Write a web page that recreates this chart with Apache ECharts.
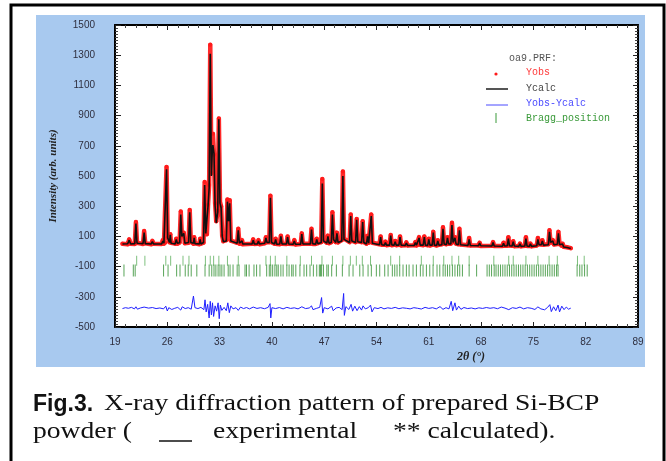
<!DOCTYPE html>
<html>
<head>
<meta charset="utf-8">
<script src="https://cdn.jsdelivr.net/npm/echarts@6/dist/echarts.min.js"></script>
<style>
  html, body { margin: 0; padding: 0; background: #fff; }
  #chart { width: 666px; height: 461px; }
</style>
</head>
<body>
<div id="chart"></div>
<script>
// 2theta positions of the profile (deg)
const twoTheta = [
  20.0, 20.7, 20.9, 21.1, 21.65, 21.8, 21.95, 22.75, 22.9, 23.05,
  23.85, 24.0, 24.15, 25.25, 25.4, 25.55, 25.75, 25.9, 26.05, 26.3,
  26.4, 26.5, 27.05, 27.2, 27.35, 27.65, 27.8, 27.95, 28.2, 28.35,
  28.85, 29.0, 29.15, 29.5, 29.6, 29.7, 30.3, 30.4, 30.5, 30.85,
  31.0, 31.15, 31.3, 31.45, 31.6, 31.75, 31.9, 32.0, 32.1, 32.25,
  32.4, 32.55, 32.75, 32.9, 33.05, 33.2, 33.35, 33.5, 33.9, 34.05,
  34.2, 34.35, 34.5, 35.35, 35.5, 35.65, 35.9, 36.0, 36.1, 37.35,
  37.5, 37.65, 38.05, 38.2, 38.35, 39.05, 39.2, 39.35, 39.65, 39.8,
  39.95, 40.35, 40.5, 40.65, 41.05, 41.2, 41.35, 41.95, 42.1, 42.25,
  42.85, 43.0, 43.15, 43.85, 44.0, 44.15, 45.15, 45.3, 45.45, 45.85,
  46.0, 46.15, 46.6, 46.75, 46.9, 47.35, 47.5, 47.65, 47.95, 48.1,
  48.25, 48.55, 48.7, 48.85, 49.35, 49.5, 49.65, 50.4, 50.55, 50.7,
  51.2, 51.35, 51.5, 52.0, 52.15, 52.3, 52.65, 52.8, 52.95, 53.15,
  53.3, 53.45, 54.4, 54.55, 54.7, 55.05, 55.2, 55.35, 55.75, 55.9,
  56.05, 56.35, 56.5, 56.65, 57.0, 57.15, 57.3, 57.85, 58.0, 58.15,
  59.05, 59.2, 59.35, 59.55, 59.7, 59.85, 60.25, 60.4, 60.55, 60.85,
  61.0, 61.15, 61.45, 61.6, 61.75, 62.05, 62.2, 62.35, 62.75, 62.9,
  63.05, 63.35, 63.5, 63.65, 63.95, 64.1, 64.25, 64.5, 64.65, 64.95,
  65.1, 65.25, 66.25, 66.4, 66.55, 67.65, 67.8, 67.95, 69.45, 69.6,
  69.75, 70.85, 71.0, 71.15, 71.5, 71.65, 71.8, 72.15, 72.3, 72.45,
  73.05, 73.2, 73.35, 73.85, 74.0, 74.15, 74.45, 74.6, 74.75, 75.45,
  75.6, 75.75, 76.05, 76.2, 76.35, 77.0, 77.15, 77.3, 77.45, 77.6,
  77.75, 78.2, 78.35, 78.5, 78.75, 78.9, 79.05, 79.5, 80.0
];
const yCalc = [
  50, 51, 75, 50, 52, 185, 55, 52, 125, 52,
  50, 65, 50, 50, 70, 55, 60, 545, 90, 60,
  110, 55, 50, 80, 55, 58, 245, 100, 120, 55,
  60, 260, 60, 55, 90, 52, 50, 80, 50, 60,
  440, 120, 110, 300, 420, 1310, 500, 640, 705, 650,
  300, 190, 260, 875, 320, 290, 100, 65, 70, 330,
  200, 320, 70, 55, 140, 55, 50, 70, 50, 50,
  75, 50, 50, 70, 50, 55, 90, 60, 60, 355,
  60, 50, 80, 48, 50, 100, 50, 50, 95, 50,
  48, 70, 48, 48, 115, 50, 50, 145, 52, 48,
  80, 52, 60, 450, 70, 55, 100, 55, 60, 245,
  80, 60, 120, 60, 70, 500, 80, 60, 235, 70,
  60, 210, 65, 60, 195, 60, 50, 100, 55, 60,
  235, 55, 45, 95, 45, 42, 60, 42, 42, 105,
  44, 42, 65, 42, 42, 95, 42, 40, 55, 40,
  40, 60, 42, 42, 90, 42, 42, 95, 42, 40,
  80, 42, 42, 125, 42, 40, 70, 42, 45, 150,
  50, 45, 90, 50, 50, 175, 60, 90, 50, 45,
  140, 45, 40, 80, 40, 38, 55, 38, 36, 60,
  36, 35, 55, 36, 38, 85, 38, 36, 65, 36,
  34, 50, 34, 36, 85, 36, 34, 50, 34, 38,
  80, 45, 45, 70, 42, 45, 130, 60, 55, 70,
  45, 48, 120, 45, 34, 50, 30, 26, 20
];
const yObs = [
  52, 48, 80, 52, 50, 195, 58, 50, 135, 54,
  48, 70, 52, 50, 75, 52, 58, 560, 95, 62,
  115, 58, 52, 85, 52, 60, 265, 105, 125, 55,
  58, 275, 65, 52, 95, 55, 48, 85, 52, 58,
  460, 130, 115, 310, 440, 1370, 520, 650, 780, 640,
  320, 200, 270, 880, 330, 300, 105, 68, 75, 345,
  210, 340, 72, 58, 150, 52, 52, 75, 48, 52,
  80, 50, 52, 75, 48, 55, 95, 62, 62, 370,
  62, 52, 85, 50, 48, 105, 52, 50, 100, 52,
  50, 75, 46, 50, 120, 52, 52, 150, 50, 50,
  85, 55, 62, 480, 75, 58, 105, 55, 62, 260,
  85, 62, 125, 60, 75, 530, 85, 62, 245, 72,
  62, 215, 68, 62, 200, 62, 52, 105, 58, 62,
  245, 58, 48, 100, 45, 44, 65, 42, 45, 110,
  42, 44, 70, 42, 44, 100, 40, 42, 60, 40,
  42, 62, 40, 44, 95, 44, 42, 100, 44, 42,
  85, 40, 44, 130, 44, 40, 75, 44, 48, 160,
  52, 48, 95, 52, 52, 190, 62, 95, 52, 48,
  150, 46, 42, 90, 40, 40, 58, 36, 38, 62,
  36, 36, 58, 38, 38, 95, 40, 38, 68, 35,
  36, 52, 34, 38, 95, 36, 36, 52, 34, 40,
  90, 48, 46, 75, 44, 48, 140, 62, 58, 75,
  46, 50, 130, 48, 36, 52, 32, 28, 22
];
// Yobs-Ycalc, drawn shifted down
const diffPoints = [
  [20.0,-378],[20.4,-372],[20.8,-376],[21.2,-370],[21.6,-380],[21.8,-366],[22.0,-382],[22.4,-374],[22.9,-368],[23.1,-380],
  [23.5,-375],[24.0,-371],[24.5,-378],[25.0,-374],[25.5,-380],[25.8,-362],[26.0,-394],[26.2,-372],[26.6,-384],[27.0,-376],
  [27.4,-370],[27.8,-388],[28.0,-366],[28.4,-378],[28.8,-372],[29.0,-360],[29.2,-382],[29.5,-295],[29.7,-372],[30.1,-378],
  [30.5,-370],[30.9,-385],[31.05,-320],[31.2,-400],[31.4,-350],[31.6,-440],[31.75,-330],[31.9,-420],[32.05,-340],[32.2,-430],
  [32.4,-360],[32.6,-395],[32.8,-340],[32.95,-445],[33.1,-355],[33.3,-390],[33.6,-370],[33.9,-392],[34.1,-340],[34.3,-405],
  [34.5,-360],[34.8,-380],[35.2,-372],[35.5,-390],[35.8,-368],[36.2,-378],[36.6,-371],[37.0,-380],[37.5,-368],[38.0,-377],
  [38.5,-372],[39.0,-379],[39.5,-370],[39.75,-345],[39.85,-440],[40.0,-372],[40.5,-378],[41.0,-371],[41.5,-380],[42.0,-370],
  [42.5,-377],[43.0,-373],[43.5,-380],[44.0,-366],[44.5,-378],[45.0,-374],[45.3,-360],[45.5,-385],[46.0,-376],[46.4,-370],
  [46.65,-305],[46.8,-408],[47.0,-372],[47.5,-380],[48.0,-362],[48.2,-392],[48.6,-374],[49.0,-370],[49.4,-385],[49.6,-278],
  [49.7,-423],[49.9,-365],[50.3,-384],[50.6,-350],[50.8,-395],[51.1,-362],[51.4,-392],[51.7,-365],[52.0,-388],[52.2,-360],
  [52.5,-380],[52.9,-372],[53.2,-355],[53.4,-400],[53.7,-372],[54.2,-378],[54.6,-370],[55.0,-380],[55.5,-373],[56.0,-377],
  [56.5,-370],[57.0,-379],[57.5,-373],[58.0,-376],[58.5,-380],[59.0,-372],[59.5,-376],[60.0,-381],[60.5,-370],[61.0,-377],
  [61.5,-372],[62.0,-380],[62.5,-365],[62.9,-383],[63.3,-372],[63.7,-380],[64.0,-330],[64.2,-392],[64.5,-340],[64.7,-388],
  [65.0,-362],[65.3,-383],[65.7,-371],[66.2,-378],[66.7,-374],[67.2,-380],[67.7,-373],[68.2,-377],[68.7,-371],[69.2,-376],
  [69.7,-372],[70.2,-379],[70.7,-368],[71.2,-375],[71.7,-385],[72.2,-372],[72.7,-377],[73.2,-368],[73.7,-380],[74.2,-372],
  [74.7,-376],[75.2,-384],[75.6,-367],[76.0,-380],[76.5,-386],[76.9,-370],[77.2,-352],[77.4,-398],[77.7,-366],[78.0,-392],
  [78.3,-355],[78.5,-400],[78.8,-362],[79.1,-385],[79.4,-368],[79.7,-382],[80.0,-375]
];
// Bragg reflection markers, two phases
const braggUpper = [21.9, 23.0, 25.8, 26.45, 28.1, 28.9, 31.1, 31.75, 32.2, 32.9, 34.05, 35.5, 39.2, 39.8, 40.45,
  42.0, 43.8, 45.3, 46.7, 48.1, 49.5, 50.5, 51.3, 52.1, 53.2, 55.9, 57.1, 60.0, 61.6, 63.0, 64.1, 65.0, 66.4,
  69.7, 71.7, 72.3, 74.0, 75.6, 77.1, 78.2, 80.9, 81.8];
const braggLower = [20.2, 21.45, 21.7, 25.5, 26.1, 27.25, 27.7, 28.4, 28.8, 29.2, 29.95, 31.05, 31.6, 31.95, 32.25,
  32.5, 32.8, 33.05, 33.3, 33.6, 34.15, 34.4, 34.8, 35.35, 35.6, 36.4, 36.6, 36.95, 37.6, 37.95, 38.4, 39.3, 39.65,
  39.85, 40.1, 40.4, 40.65, 40.85, 41.2, 41.5, 42.0, 42.3, 42.65, 42.85, 43.2, 43.75, 44.3, 44.65, 45.1, 45.55,
  46.0, 46.35, 46.5, 46.65, 46.9, 47.35, 47.55, 48.0, 48.63, 49.43, 50.33, 50.86, 51.76, 52.2, 52.87, 53.31,
  53.98, 54.43, 55.1, 55.55, 56.12, 56.44, 56.75, 57.11, 57.55, 58.0, 58.36, 58.89, 59.34, 59.87, 60.23, 60.68,
  61.13, 61.57, 62.1, 62.47, 62.91, 63.2, 63.5, 63.8, 64.16, 64.5, 64.85, 65.14, 65.5, 66.4, 67.4, 68.8, 69.1,
  69.4, 69.75, 70.0, 70.3, 70.6, 70.9, 71.2, 71.5, 71.8, 72.1, 72.4, 72.7, 73.0, 73.3, 73.6, 73.9, 74.2, 74.5,
  74.8, 75.1, 75.4, 75.7, 76.0, 76.3, 76.6, 76.9, 77.2, 77.5, 77.8, 78.1, 78.3, 80.85, 81.2, 81.5, 81.85, 82.2];
const braggUpperLevel = -62;
const braggLowerLevel = -125;

const chart = echarts.init(document.getElementById('chart'));

const labelFont = { color: '#2e2e3e', fontSize: 10, fontFamily: 'Liberation Sans' };
const capFont = '23px "Liberation Serif"';
const capStretch = 1.2;

function mirrorAxis(pos, min, max, interval, minorSplit) {
  return {
    type: 'value', position: pos, min: min, max: max, interval: interval,
    axisLine: { show: true, onZero: false, lineStyle: { color: '#000', width: 2 } },
    axisTick: { show: true, inside: true, length: 5, lineStyle: { color: '#222' } },
    minorTick: { show: true, splitNumber: minorSplit, length: 3, lineStyle: { color: '#444' } },
    axisLabel: { show: false },
    splitLine: { show: false }
  };
}

function captionText(x, y, text) {
  return { type: 'text', z: 10, x: x, y: y, scaleX: capStretch, style: { text: text, font: capFont, fill: '#111' } };
}

const option = {
  animation: false,
  backgroundColor: '#fff',
  grid: { left: 115, top: 25, right: 28, bottom: 134, show: true, backgroundColor: '#fff', borderWidth: 0 },
  xAxis: [
    {
      type: 'value', min: 19, max: 89, interval: 7,
      axisLine: { show: true, onZero: false, lineStyle: { color: '#000', width: 2 } },
      axisTick: { show: true, inside: true, length: 5, lineStyle: { color: '#222' } },
      minorTick: { show: true, splitNumber: 5, length: 3, lineStyle: { color: '#444' } },
      axisLabel: Object.assign({ margin: 10 }, labelFont),
      splitLine: { show: false }
    },
    mirrorAxis('top', 19, 89, 7, 5)
  ],
  yAxis: [
    {
      type: 'value', min: -500, max: 1500, interval: 200,
      axisLine: { show: true, onZero: false, lineStyle: { color: '#000', width: 2 } },
      axisTick: { show: true, inside: true, length: 6, lineStyle: { color: '#222' } },
      minorTick: { show: true, splitNumber: 10, length: 3, lineStyle: { color: '#444' } },
      axisLabel: Object.assign({ margin: 20, formatter: v => String(v) }, labelFont),
      splitLine: { show: false },
      name: 'Intensity (arb. units)',
      nameLocation: 'middle',
      nameGap: 56,
      nameTextStyle: { fontFamily: 'Liberation Serif', fontStyle: 'italic', fontWeight: 'bold', fontSize: 11, color: '#222' }
    },
    mirrorAxis('right', -500, 1500, 200, 10)
  ],
  series: [
    {
      name: 'Yobs', type: 'line', data: twoTheta.map((x, i) => [x, yObs[i]]),
      showSymbol: true, symbol: 'circle', symbolSize: 4,
      itemStyle: { color: '#ff1a1a' },
      lineStyle: { color: '#ff2a2a', width: 4.5, join: 'round', cap: 'round' },
      z: 2, silent: true
    },
    {
      name: 'Ycalc', type: 'line', data: twoTheta.map((x, i) => [x, yCalc[i]]),
      showSymbol: false, lineStyle: { color: '#111', width: 1.6 }, z: 3, silent: true
    },
    {
      name: 'Yobs-Ycalc', type: 'line', data: diffPoints,
      showSymbol: false, lineStyle: { color: '#1f1fff', width: 1 }, z: 3, silent: true
    },
    {
      name: 'Bragg_position', type: 'scatter', data: braggUpper.map(x => [x, braggUpperLevel]),
      symbol: 'rect', symbolSize: [1, 10], itemStyle: { color: '#5fb05f' }, z: 2, silent: true
    },
    {
      name: 'Bragg_position 2', type: 'scatter', data: braggLower.map(x => [x, braggLowerLevel]),
      symbol: 'rect', symbolSize: [1, 12], itemStyle: { color: '#2f8f2f' }, z: 2, silent: true
    }
  ],
  graphic: [
    // outer frame and blue panel
    { type: 'rect', z: -20, shape: { x: 11, y: 5, width: 653, height: 470 }, style: { fill: '#fff', stroke: '#000', lineWidth: 3 } },
    { type: 'rect', z: -10, shape: { x: 36, y: 15, width: 609, height: 352 }, style: { fill: '#a8c9ef' } },
    // x axis title
    { type: 'text', z: 10, x: 471, y: 357, style: { text: '2θ (°)', fill: '#222', font: 'italic bold 12px "Liberation Serif"', align: 'center', verticalAlign: 'middle' } },
    // legend
    { type: 'text', z: 10, x: 509, y: 58, style: { text: 'oa9.PRF:', fill: '#555', font: '10px "Liberation Mono"', verticalAlign: 'middle' } },
    { type: 'circle', z: 10, shape: { cx: 496, cy: 74, r: 1.6 }, style: { fill: '#ff1a1a' } },
    { type: 'text', z: 10, x: 526, y: 72, style: { text: 'Yobs', fill: '#ff3a3a', font: '10px "Liberation Mono"', verticalAlign: 'middle' } },
    { type: 'line', z: 10, shape: { x1: 486, y1: 89, x2: 508, y2: 89 }, style: { stroke: '#555', lineWidth: 2 } },
    { type: 'text', z: 10, x: 526, y: 88, style: { text: 'Ycalc', fill: '#444', font: '10px "Liberation Mono"', verticalAlign: 'middle' } },
    { type: 'line', z: 10, shape: { x1: 486, y1: 105, x2: 508, y2: 105 }, style: { stroke: '#4a4aff', lineWidth: 1 } },
    { type: 'text', z: 10, x: 526, y: 103, style: { text: 'Yobs-Ycalc', fill: '#4a4aff', font: '10px "Liberation Mono"', verticalAlign: 'middle' } },
    { type: 'line', z: 10, shape: { x1: 496, y1: 113, x2: 496, y2: 123 }, style: { stroke: '#3a9a3a', lineWidth: 1 } },
    { type: 'text', z: 10, x: 526, y: 118, style: { text: 'Bragg_position', fill: '#3a9a3a', font: '10px "Liberation Mono"', verticalAlign: 'middle' } },
    // caption
    { type: 'text', z: 10, x: 33, y: 393, style: { text: 'Fig.3.', font: 'bold 23px "Liberation Sans"', fill: '#111' } },
    captionText(104, 392, 'X-ray diffraction pattern of prepared Si-BCP'),
    captionText(33, 420, 'powder ('),
    { type: 'line', z: 10, shape: { x1: 159, y1: 441, x2: 192, y2: 441 }, style: { stroke: '#111', lineWidth: 1.5 } },
    captionText(213, 420, 'experimental'),
    captionText(393, 420, '** calculated).')
  ]
};
chart.setOption(option);
</script>
</body>
</html>
